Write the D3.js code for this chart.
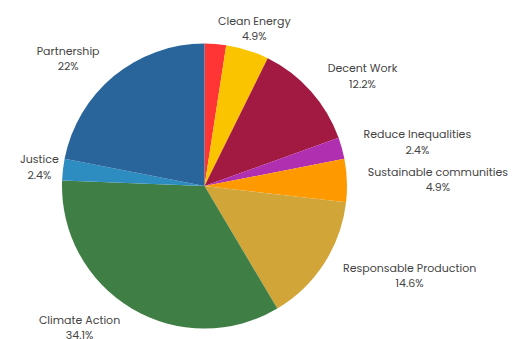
<!DOCTYPE html>
<html>
<head>
<meta charset="utf-8">
<script src="https://cdn.jsdelivr.net/npm/d3@7"></script>
<style>
	body { margin: 0; background: #fff; }
	svg { display: block; }
</style>
</head>
<body>
<div id="chart"></div>
<script>
// goals and number of items per goal (clockwise from 12 o'clock)
var categories = ["Gender Equality", "Clean Energy", "Decent Work", "Reduce Inequalities", "Sustainable communities",
                  "Responsable Production", "Climate Action", "Justice", "Partnership"];
var counts = [1, 2, 5, 1, 2, 6, 14, 1, 9];
var pctLabels = ["2.4%", "4.9%", "12.2%", "2.4%", "4.9%", "14.6%", "34.1%", "2.4%", "22%"];
var showLabel = [false, true, true, true, true, true, true, true, true];
var colors = ["#ff3535", "#fbc400", "#a21942", "#b02fb0", "#ff9900", "#d1a537", "#3f7e44", "#2e8dc0", "#29659a"];

var drawPie = function(htmlID) {
	var width = 512,
	    height = 339,
	    cx = 204.5,
	    cy = 186,
	    radius = 142.5,
	    labelRadius = 165,
	    fontSize = 11,
	    lineHeight = 15.5;

	var svg = d3.select(htmlID)
	    .append("svg")
	    .attr("width", width)
	    .attr("height", height);

	var color = d3.scaleOrdinal().domain(categories).range(colors);

	var data = categories.map(function(c, i) {
		return { name: c, value: counts[i], pct: pctLabels[i], show: showLabel[i] };
	});

	var pie = d3.pie()
	    .sort(null)
	    .value(function(d) { return d.value; });

	var arc = d3.arc()
	    .innerRadius(0)
	    .outerRadius(radius);

	var g = svg.append("g")
	    .attr("transform", "translate(" + cx + "," + cy + ")");

	var arcs = pie(data);

	g.selectAll("path")
	    .data(arcs)
	    .enter().append("path")
	    .attr("d", arc)
	    .attr("fill", function(d) { return color(d.data.name); })
	    .attr("stroke", "none");

	/* labels: block of two centred lines, edge sitting on the label radius */
	var labels = g.selectAll(".label")
	    .data(arcs.filter(function(d) { return d.data.show; }))
	    .enter().append("text")
	    .attr("class", "label")
	    .attr("font-family", "Poppins, 'Noto Sans', sans-serif")
	    .attr("font-size", fontSize)
	    .attr("fill", "#444")
	    .attr("text-anchor", "middle");

	labels.each(function(d) {
		var t = d3.select(this);
		t.append("tspan").text(d.data.name);
		t.append("tspan").text(d.data.pct);
		var w = 0;
		t.selectAll("tspan").each(function() { w = Math.max(w, this.getComputedTextLength()); });

		var a = (d.startAngle + d.endAngle) / 2,
		    ax = labelRadius * Math.sin(a),
		    ay = -labelRadius * Math.cos(a),
		    s = Math.sin(a),
		    mid;

		if (Math.abs(s) < 0.4) mid = ax;
		else if (s > 0) mid = ax + w / 2;
		else mid = ax - w / 2;

		// keep the block inside the page
		var left = cx + mid - w / 2;
		if (left < 20) mid += 20 - left;
		var right = cx + mid + w / 2;
		if (right > width - 4) mid -= right - (width - 4);

		t.selectAll("tspan")
		    .attr("x", mid)
		    .attr("y", function(_, i) { return ay + (i - 0.5) * lineHeight + fontSize * 0.35; });
	});
}

drawPie("#chart");
</script>
</body>
</html>
